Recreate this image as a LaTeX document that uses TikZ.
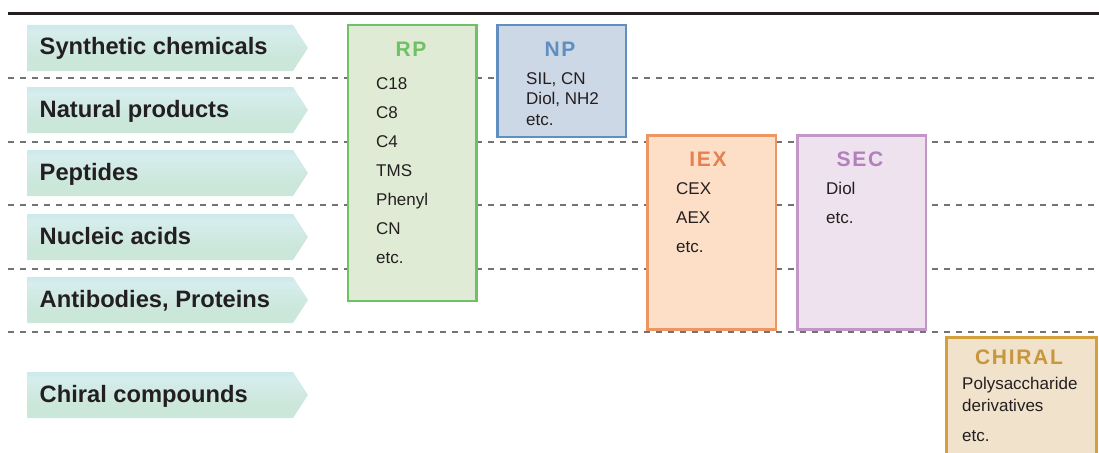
\documentclass[tikz,border=0pt]{standalone}
\usepackage{fontspec}
\setmainfont{Liberation Sans}
\definecolor{textdark}{RGB}{35,31,32}
\definecolor{gridgray}{RGB}{115,115,115}
\definecolor{cattop}{RGB}{170,219,228}
\definecolor{catmid}{RGB}{214,237,237}
\definecolor{catbot}{RGB}{203,231,218}
\definecolor{rpline}{RGB}{110,193,100}
\definecolor{rpfill}{RGB}{223,235,212}
\definecolor{npline}{RGB}{96,142,192}
\definecolor{npfill}{RGB}{205,216,230}
\definecolor{iexline}{RGB}{236,150,100}
\definecolor{iexfill}{RGB}{253,223,200}
\definecolor{iextext}{RGB}{230,128,80}
\definecolor{secline}{RGB}{195,150,200}
\definecolor{secfill}{RGB}{237,226,238}
\definecolor{sectext}{RGB}{178,128,188}
\definecolor{chirline}{RGB}{212,160,60}
\definecolor{chirfill}{RGB}{241,226,203}
\definecolor{chirtext}{RGB}{200,150,60}
\pgfdeclareverticalshading{catshade}{100bp}{color(0bp)=(catbot); color(40bp)=(catbot); color(68bp)=(catmid); color(100bp)=(cattop)}
\begin{document}
\begin{tikzpicture}[x=1pt,y=-1pt,
  gridline/.style={gridgray, line width=1.3pt, dash pattern=on 6pt off 6pt},
  cattext/.style={anchor=base west, inner sep=0pt, text=textdark, font=\fontsize{23.7}{26}\selectfont\bfseries},
  colbox/.style={draw, line width=2.6pt, anchor=north west, inner sep=0pt, minimum width=128.5pt},
  coltitle/.style={anchor=base, inner sep=0pt, font=\fontsize{21}{24}\selectfont\bfseries\addfontfeatures{LetterSpace=8}},
  item/.style={anchor=base west, inner sep=0pt, text=textdark, font=\fontsize{17}{20}\selectfont}
]
\useasboundingbox (0,0) rectangle (1099,452);
\clip (0,0) rectangle (1099,452);
% top rule and dashed row separators
\draw[textdark, line width=3pt] (8,14) -- (1099,14);
\foreach \yy in {78,142,205,269,332}
  \draw[gridline] (8,\yy) -- (1099,\yy);
% category arrows
\foreach \yy/\nn/\tt in {48/c1/Synthetic chemicals, 110/c2/Natural products, 173/c3/Peptides, 237/c4/Nucleic acids, 300/c5/{Antibodies, Proteins}, 395/c6/Chiral compounds}{
  \shade[shading=catshade] (27,\yy-23) -- (293,\yy-23) -- (308,\yy) -- (293,\yy+23) -- (27,\yy+23) -- cycle;
  \node[cattext] (\nn) at (39.5,\yy+7) {\tt};
}
% column boxes
\node[colbox, draw=rpline, fill=rpfill, minimum height=276pt] (rp) at (346.8,23.8) {};
\node[colbox, draw=npline, fill=npfill, minimum height=112pt] (np) at (496.3,23.8) {};
\node[colbox, draw=iexline, fill=iexfill, minimum height=194pt] (iex) at (646.3,134.3) {};
\node[colbox, draw=secline, fill=secfill, minimum height=194pt] (sec) at (796.3,134.3) {};
\node[colbox, draw=chirline, fill=chirfill, minimum width=150pt, minimum height=140pt] (chir) at (945.3,336.3) {};
% titles
\node[coltitle, text=rpline] (rpt) at (411,56.7) {RP};
\node[coltitle, text=npline] (npt) at (560,56.7) {NP};
\node[coltitle, text=iextext] (iext) at (708,166.7) {IEX};
\node[coltitle, text=sectext] (sect) at (860,166.7) {SEC};
\node[coltitle, text=chirtext] (chirt) at (1019,364.3) {CHIRAL};
% RP items
\node[item] (rp1) at (376,89) {C18};
\node[item] (rp2) at (376,118) {C8};
\node[item] (rp3) at (376,147) {C4};
\node[item] (rp4) at (376,176.5) {TMS};
\node[item] (rp5) at (376,205.5) {Phenyl};
\node[item] (rp6) at (376,234.5) {CN};
\node[item] (rp7) at (376,263.5) {etc.};
% NP items
\node[item] (np1) at (526,84) {SIL, CN};
\node[item] (np2) at (526,104.5) {Diol, NH2};
\node[item] (np3) at (526,125) {etc.};
% IEX items
\node[item] (iex1) at (676,194) {CEX};
\node[item] (iex2) at (676,223.3) {AEX};
\node[item] (iex3) at (676,252.3) {etc.};
% SEC items
\node[item] (sec1) at (826,194) {Diol};
\node[item] (sec2) at (826,223.3) {etc.};
% CHIRAL items
\node[item] (ch1) at (962,389) {Polysaccharide};
\node[item] (ch2) at (962,411.7) {derivatives};
\node[item] (ch3) at (962,441) {etc.};
\end{tikzpicture}
\end{document}
